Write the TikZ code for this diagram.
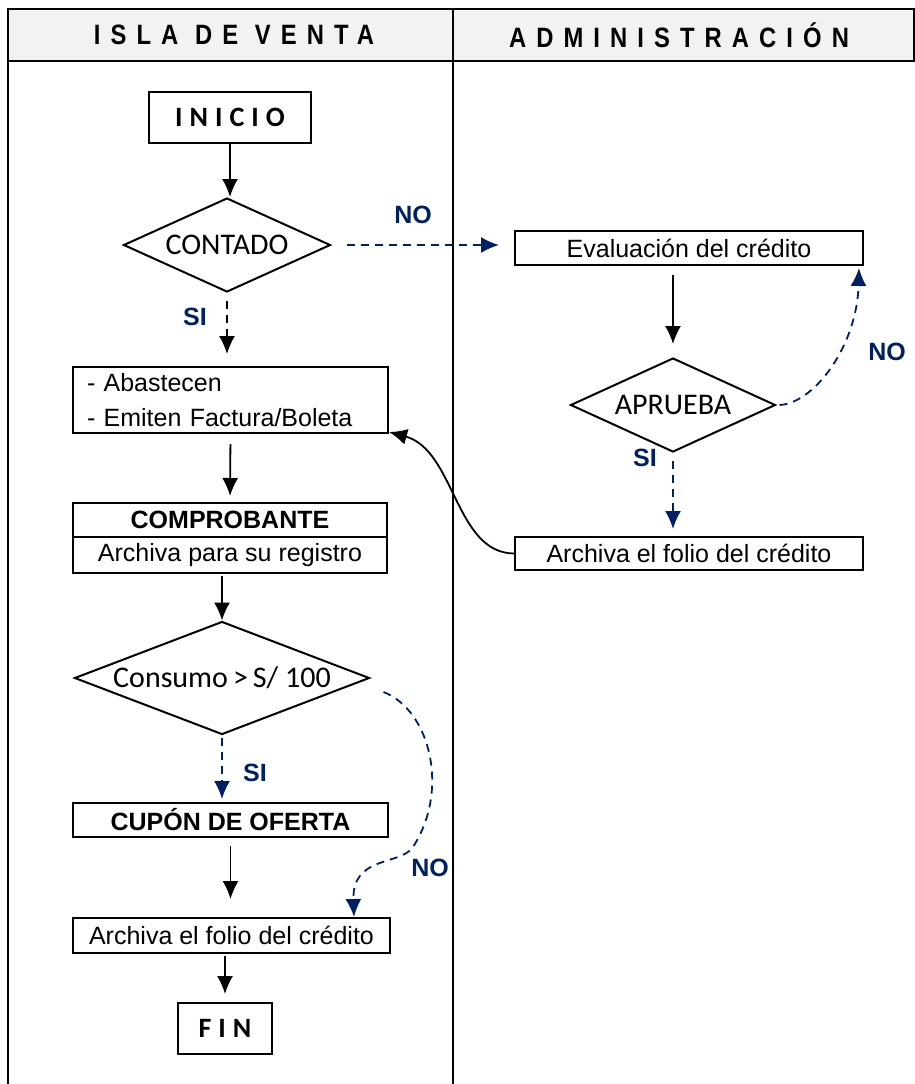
\documentclass[tikz,border=0pt]{standalone}
\usepackage{fontspec}
\setmainfont{Liberation Sans}
\newfontfamily\calfont{Carlito}
\newfontfamily\headfont[FakeStretch=0.85,LetterSpace=36]{Liberation Sans Bold}
\newfontfamily\tagfont[LetterSpace=25]{Carlito}
\usetikzlibrary{shapes.geometric,arrows.meta}
\definecolor{navy}{RGB}{0,32,96}
\definecolor{headgray}{RGB}{242,242,242}
\tikzset{
  box/.style={draw, line width=1pt, inner sep=0pt, font=\fontsize{12.5}{15}\selectfont},
  decision/.style={diamond, draw, line width=1pt, inner sep=0pt, font=\calfont\fontsize{15}{18}\selectfont},
  flow/.style={->, line width=0.9pt},
  choice/.style={->, line width=0.9pt, dash pattern=on 4pt off 3pt},
  answer/.style={text=navy, font=\bfseries\fontsize{12.5}{15}\selectfont},
}
\begin{document}
\begin{tikzpicture}[x=0.5pt,y=-0.5pt,>={Latex[length=9pt,width=8pt]}]
\useasboundingbox (0,0) rectangle (915,1084);

%%%%%%%%%%%%%%%% lanes
\fill[headgray] (8,9) rectangle (914,61);
\draw[line width=1pt] (8,1084) -- (8,9) -- (914,9) -- (914,61) -- (8,61);
\draw[line width=1pt] (453,9) -- (453,1084);
\node[font=\headfont\fontsize{14}{16}\selectfont] (isla) at (234,35) {ISLA DE VENTA};
\node[font=\headfont\fontsize{14}{16}\selectfont] (admin) at (679,35) {ADMINISTRACIÓN};

%%%%%%%%%%%%%%%% isla de venta
\node[box, minimum width=81pt, minimum height=25.5pt, font=\tagfont\bfseries\fontsize{14}{16}\selectfont] (inicio) at (230,117) {INICIO};
\node[decision, minimum width=103.5pt, minimum height=47pt, aspect=2.2] (contado) at (227,245) {CONTADO};
\node[box, minimum width=157.5pt, minimum height=33pt, text width=143.5pt, inner xsep=7pt, align=left, font=\fontsize{12.5}{17.5}\selectfont] (abast) at (230.5,400) {- Abastecen\\- Emiten Factura/Boleta};
\node[box, minimum width=157pt, minimum height=17pt, font=\bfseries\fontsize{12.5}{15}\selectfont] (compa) at (230,520) {COMPROBANTE};
\node[box, minimum width=157pt, minimum height=18pt] (compb) at (230,555) {Archiva para su registro};
\node[decision, minimum width=147.5pt, minimum height=56.5pt, aspect=2.6] (consumo) at (222,678) {Consumo\,>\,S/ 100};
\node[box, minimum width=157.5pt, minimum height=17pt, font=\bfseries\fontsize{12.5}{15}\selectfont] (cupon) at (230.5,820) {CUPÓN DE OFERTA};
\node[box, minimum width=158.5pt, minimum height=17.5pt] (archL) at (231.5,935.5) {Archiva el folio del crédito};
\node[box, minimum width=47pt, minimum height=25.5pt, font=\tagfont\bfseries\fontsize{14}{16}\selectfont] (fin) at (225,1028.5) {FIN};

%%%%%%%%%%%%%%%% administracion
\node[box, minimum width=174pt, minimum height=17pt] (eval) at (689,248) {Evaluación del crédito};
\node[decision, minimum width=102.5pt, minimum height=47pt, aspect=2.2] (aprueba) at (673,405) {APRUEBA};
\node[box, minimum width=174pt, minimum height=16.5pt] (archR) at (689,553.5) {Archiva el folio del crédito};

%% answers
\node[answer] (no1) at (413,215) {NO};
\node[answer] (si1) at (195,317) {SI};
\node[answer] (no2) at (887,352) {NO};
\node[answer] (si2) at (645,458) {SI};
\node[answer] (si3) at (255,773) {SI};
\node[answer] (no3) at (430,868) {NO};

%% arrows
\draw[flow] (inicio.south) -- (inicio.south |- contado.north);
\draw[choice, shorten <=4pt, shorten >=6pt] (contado.south) -- (contado.south |- abast.north);
\draw[choice, navy, shorten <=7.5pt, shorten >=7.5pt] (contado.east) -- (contado.east -| eval.west);
\draw[flow, shorten <=5pt, shorten >=3pt] (abast.south) -- (compa.north);
\draw[flow, shorten <=1pt] (consumo.north |- compb.south) -- (consumo.north);
\draw[choice, navy, shorten <=1pt, shorten >=1.5pt] (consumo.south) -- (consumo.south |- cupon.north);
\draw[flow, shorten <=4pt, shorten >=9pt] (cupon.south) -- (cupon.south |- archL.north);
\draw[flow, shorten <=1pt, shorten >=4pt] (fin.north |- archL.south) -- (fin.north);
\draw[flow, shorten <=4.5pt, shorten >=6.5pt] (aprueba.north |- eval.south) -- (aprueba.north);
\draw[choice, navy, shorten <=4pt, shorten >=3.5pt] (aprueba.south) -- (aprueba.south |- archR.north);

%% loops
\draw[choice, navy] ([xshift=1.5pt]aprueba.east) .. controls (815,403) and (857,345) .. ([xshift=-2.5pt,yshift=-1pt]eval.south east);
\draw[choice, navy] ([xshift=6.5pt,yshift=-7pt]consumo.east) .. controls (430,710) and (450,790) .. (413,847)
      .. controls (400,866) and (352,855) .. ([xshift=-18.5pt]archL.north east);
\draw[flow] (archR.west) .. controls (455,553) and (455,450) .. ([yshift=1pt]abast.south east);

\end{tikzpicture}
\end{document}
